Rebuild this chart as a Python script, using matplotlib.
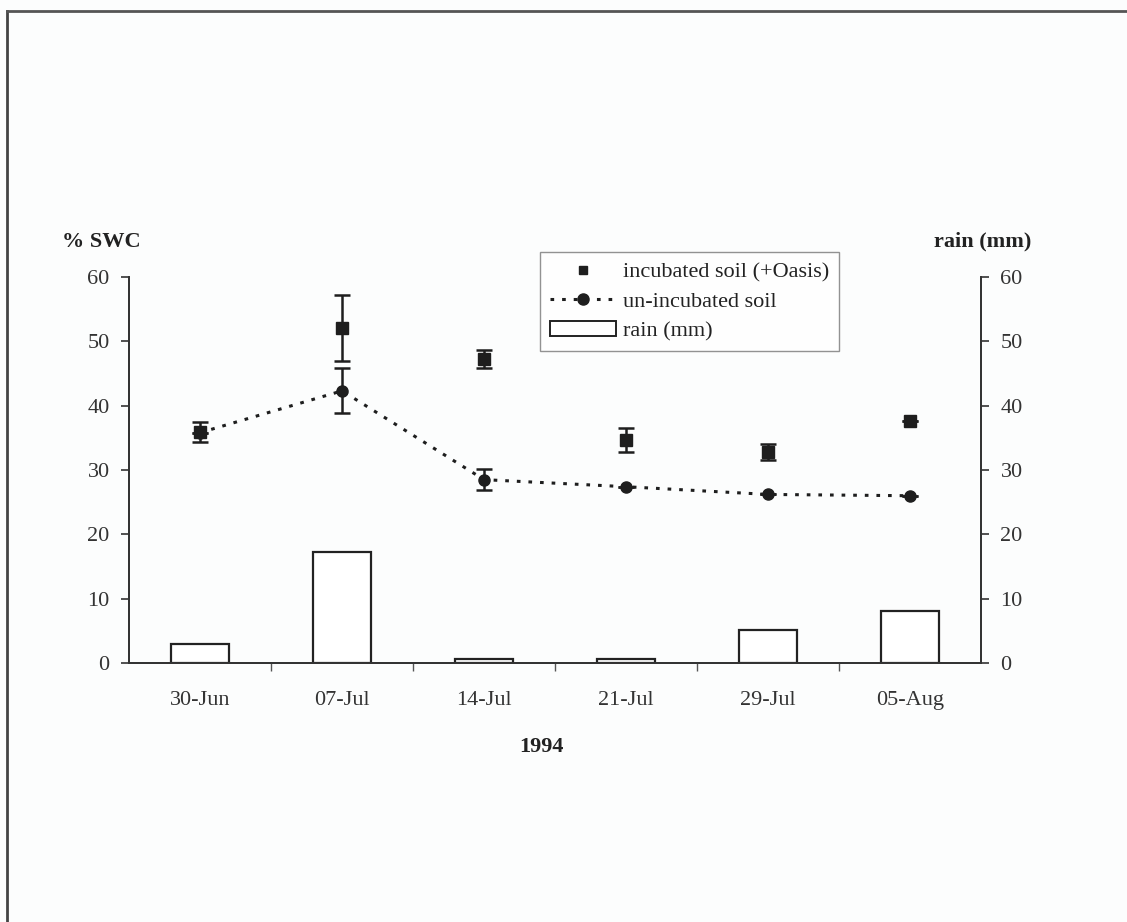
import matplotlib.pyplot as plt
from matplotlib.lines import Line2D
from matplotlib.patches import Rectangle

dates = ['30-Jun', '07-Jul', '14-Jul', '21-Jul', '29-Jul', '05-Aug']
incubated = [35.9, 52.1, 47.2, 34.7, 32.8, 37.6]
incubated_err = [1.6, 5.1, 1.4, 1.9, 1.2, 0.0]
unincubated = [35.8, 42.3, 28.5, 27.4, 26.2, 26.0]
unincubated_err = [0.0, 3.5, 1.6, 0.0, 0.0, 0.0]
rain = [3.0, 17.2, 0.6, 0.7, 5.1, 8.1]
yticks = [0, 10, 20, 30, 40, 50, 60]


def main():
    plt.rcParams['font.family'] = ['Liberation Serif', 'DejaVu Serif']
    fs = 16
    fig = plt.figure(figsize=(11.27, 9.22), dpi=100)
    fig.patch.set_facecolor('#fcfdfd')

    ax = fig.add_axes([0.1145, 0.2809, 0.756, 0.4187])
    ax2 = ax.twinx()
    ax.set_zorder(ax2.get_zorder() + 1)
    ax.patch.set_visible(False)

    x = list(range(len(dates)))

    # rain bars on the right axis
    ax2.bar(x, rain, width=0.41, facecolor='white', edgecolor='#222222',
            linewidth=1.6, zorder=2)

    # soil water content
    ax.errorbar(x, unincubated, yerr=unincubated_err, fmt='o', ms=8,
                color='#1e1e1e', ecolor='#1e1e1e', elinewidth=1.8, capsize=6,
                capthick=1.8, linestyle=(0, (1.2, 2.6)), linewidth=2.2, zorder=3)
    ax.errorbar(x, incubated, yerr=incubated_err, fmt='s', ms=8,
                color='#1e1e1e', ecolor='#1e1e1e', elinewidth=1.8, capsize=6,
                capthick=1.8, linestyle='none', zorder=4)

    for a in (ax, ax2):
        a.set_ylim(0, 60)
        a.set_xlim(-0.5, len(dates) - 0.5)
        a.set_yticks(yticks)
        a.spines['top'].set_visible(False)
        for s in a.spines.values():
            s.set_color('#333333')
            s.set_linewidth(1.3)
        a.tick_params(axis='y', labelsize=fs, colors='#333333', length=6,
                      width=1.2, direction='out', pad=8)

    ax.set_xticks(x)
    ax.set_xticklabels(dates)
    ax.set_xticks([i + 0.5 for i in x[:-1]], minor=True)
    ax.tick_params(axis='x', which='major', length=0, labelsize=fs,
                   colors='#333333', pad=20)
    ax.tick_params(axis='x', which='minor', length=6, width=1.0,
                   color='#555555', direction='out')
    ax2.tick_params(axis='x', length=0)

    fig.text(0.055, 0.738, '% SWC', fontsize=fs, fontweight='bold',
             color='#222222', ha='left', va='center')
    fig.text(0.872, 0.738, 'rain (mm)', fontsize=fs, fontweight='bold',
             color='#222222', ha='center', va='center')
    fig.text(0.48, 0.19, '1994', fontsize=fs, fontweight='bold',
             color='#222222', ha='center', va='center')

    handles = [
        Line2D([], [], marker='s', ms=6, color='#1e1e1e', linestyle='none'),
        Line2D([], [], marker='o', ms=8, color='#1e1e1e',
               linestyle=(0, (1.2, 2.6)), linewidth=2.2),
        Rectangle((0, 0), 1, 1, facecolor='white', edgecolor='#222222',
                  linewidth=1.4),
    ]
    labels = ['incubated soil (+Oasis)', 'un-incubated soil', 'rain (mm)']
    leg = fig.legend(handles, labels, loc='upper left',
                     bbox_to_anchor=(0.479, 0.7267), fontsize=fs,
                     frameon=True, fancybox=False, handlelength=3.0,
                     handletextpad=0.3, borderpad=0.45, labelspacing=0.4,
                     borderaxespad=0)
    leg.get_frame().set_edgecolor('#777777')
    leg.get_frame().set_linewidth(1.0)
    for t in leg.get_texts():
        t.set_color('#222222')

    # outer frame of the scanned figure
    fig.add_artist(Line2D([0.006, 0.006], [0.0, 0.988], color='#444444',
                          linewidth=2.0, transform=fig.transFigure))
    fig.add_artist(Line2D([0.006, 1.0], [0.988, 0.988], color='#555555',
                          linewidth=2.0, transform=fig.transFigure))

    fig.savefig('out.png', dpi=100, facecolor=fig.get_facecolor())


if __name__ == '__main__':
    main()
